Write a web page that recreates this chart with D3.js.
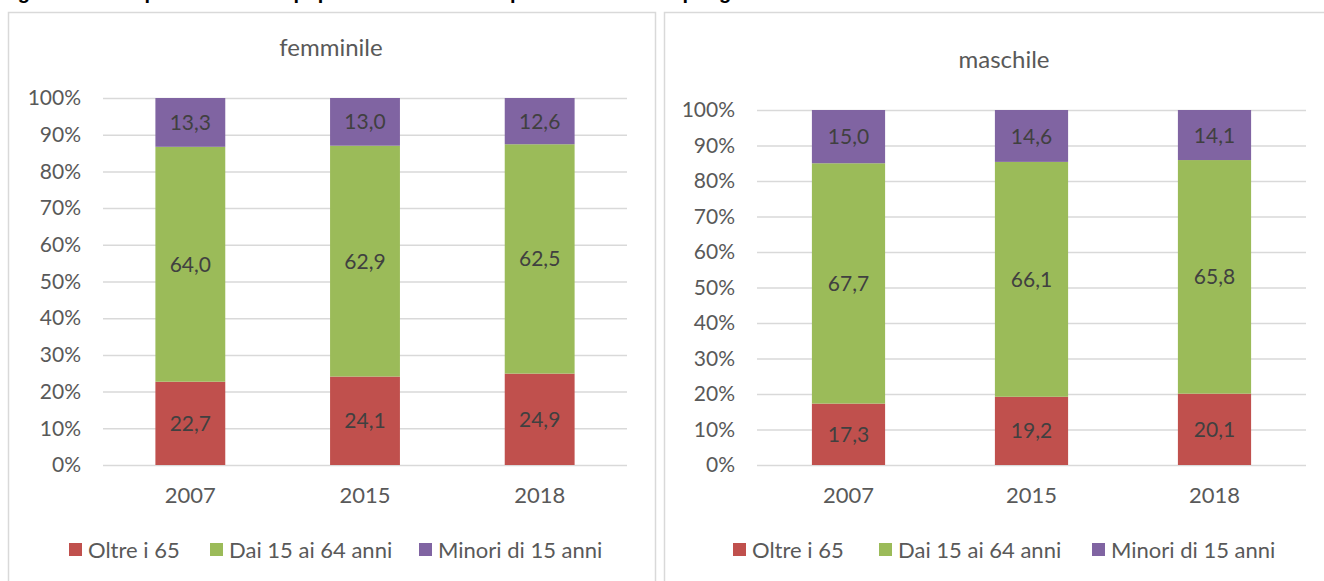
<!DOCTYPE html>
<html>
<head>
<meta charset="utf-8">
<script src="https://cdn.jsdelivr.net/npm/d3@7"></script>
<style>
  body { margin: 0; background: #fff; }
  svg { display: block; font-family: Lato, "Open Sans", sans-serif; }
</style>
</head>
<body>
<svg width="1324" height="581"></svg>
<script>
var width = 1324, height = 581

// data
var years = ["2007", "2015", "2018"]
var seriesNames = ["Oltre i 65", "Dai 15 ai 64 anni", "Minori di 15 anni"]
var colors = ["#C0504D", "#9BBB59", "#8064A2"]
var yTicks = [0, 0.1, 0.2, 0.3, 0.4, 0.5, 0.6, 0.7, 0.8, 0.9, 1]

var femOltre = [22.7, 24.1, 24.9]
var femDai = [64.0, 62.9, 62.5]
var femMinori = [13.3, 13.0, 12.6]

var masOltre = [17.3, 19.2, 20.1]
var masDai = [67.7, 66.1, 65.8]
var masMinori = [15.0, 14.6, 14.1]

var svg = d3.select("svg")

// page title, only its descenders show at the top of the picture
svg.append("text")
  .attr("x", 0).attr("y", -1)
  .attr("font-family", "Liberation Sans, Arial, sans-serif")
  .attr("font-weight", "bold").attr("font-size", 20).attr("fill", "#000")
  .text("Figura 1 \u2013 Composizione della popolazione residente per classi di et\u00e0 e per genere")

function panel(opt) {
  var g = svg.append("g")

  g.append("rect")
    .attr("x", opt.box[0] + 0.5).attr("y", 12.5)
    .attr("width", opt.box[1] - opt.box[0]).attr("height", 600)
    .attr("fill", "#fff").attr("stroke", "#D9D9D9").attr("stroke-width", 1.5)

  g.append("text")
    .attr("x", opt.titleX).attr("y", opt.titleY)
    .attr("text-anchor", "middle").attr("font-size", 24).attr("fill", "#595959")
    .text(opt.title)

  var x = d3.scaleBand().domain(years).range(opt.xRange)
    .paddingInner(0.6).paddingOuter(0.3)
  var y = d3.scaleLinear().domain([0, 1]).range(opt.yRange)

  var yAxis = g.append("g")
    .attr("transform", "translate(" + opt.xRange[0] + ",0)")
    .call(d3.axisLeft(y).tickValues(yTicks).tickFormat(d3.format(".0%"))
      .tickSize(-(opt.xRange[1] - opt.xRange[0])).tickPadding(opt.tickPad))
  yAxis.select(".domain").remove()
  yAxis.selectAll("line").attr("stroke", "#D9D9D9").attr("stroke-width", 1.5)
  yAxis.selectAll("text").attr("font-size", 21).attr("fill", "#595959")
    .attr("font-family", "Lato, sans-serif")

  var rows = years.map(function(yr, i) {
    return { year: yr, a: opt.data[0][i], b: opt.data[1][i], c: opt.data[2][i] }
  })
  var stacked = d3.stack().keys(["a", "b", "c"]).offset(d3.stackOffsetExpand)(rows)

  var layer = g.selectAll(".layer").data(stacked).enter().append("g")
    .attr("fill", function(d, i) { return colors[i] })

  layer.selectAll("rect").data(function(d) { return d }).enter().append("rect")
    .attr("x", function(d) { return x(d.data.year) })
    .attr("width", x.bandwidth())
    .attr("y", function(d) { return y(d[1]) })
    .attr("height", function(d) { return y(d[0]) - y(d[1]) })

  layer.each(function(s) {
    d3.select(this).selectAll("text").data(s).enter().append("text")
      .attr("x", function(d) { return x(d.data.year) + x.bandwidth() / 2 })
      .attr("y", function(d) { return (y(d[0]) + y(d[1])) / 2 })
      .attr("dy", "0.36em")
      .attr("text-anchor", "middle").attr("font-size", 21).attr("fill", "#404040")
      .text(function(d) { return d3.format(".1f")(d.data[s.key]).replace(".", ",") })
  })

  g.selectAll(".xl").data(years).enter().append("text")
    .attr("x", function(d) { return x(d) + x.bandwidth() / 2 })
    .attr("y", 503)
    .attr("text-anchor", "middle").attr("font-size", 22).attr("fill", "#595959")
    .text(function(d) { return d })

  var leg = g.selectAll(".leg").data(seriesNames).enter().append("g")
    .attr("transform", function(d, i) { return "translate(" + opt.legendX[i] + ",550)" })
  leg.append("rect").attr("x", 0).attr("y", -7).attr("width", 13).attr("height", 13)
    .attr("fill", function(d, i) { return colors[i] })
  leg.append("text").attr("x", 19).attr("dy", "0.36em")
    .attr("font-size", 22).attr("fill", "#595959")
    .text(function(d) { return d })
}

panel({
  box: [8, 655], title: "femminile", titleX: 331, titleY: 56,
  xRange: [103, 627], yRange: [465, 98], tickPad: 22,
  data: [femOltre, femDai, femMinori],
  legendX: [69, 210, 419]
})

panel({
  box: [664, 1330], title: "maschile", titleX: 1004, titleY: 68,
  xRange: [757, 1306], yRange: [465, 110], tickPad: 22,
  data: [masOltre, masDai, masMinori],
  legendX: [733, 879, 1092]
})
</script>
</body>
</html>
